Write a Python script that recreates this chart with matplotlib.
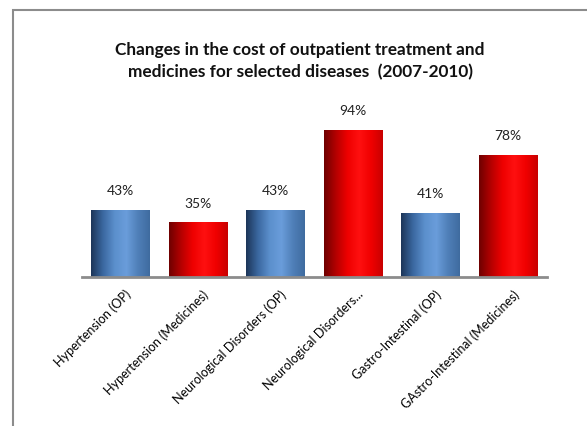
import numpy as np
import matplotlib
matplotlib.use("Agg")
import matplotlib.pyplot as plt
from matplotlib.patches import Rectangle
from matplotlib.colors import LinearSegmentedColormap
from matplotlib.transforms import ScaledTranslation

categories = ["Hypertension (OP)", "Hypertension (Medicines)", "Neurological Disorders (OP)",
              "Neurological Disorders...", "Gastro-Intestinal (OP)", "GAstro-Intestinal (Medicines)"]
values = [43, 35, 43, 94, 41, 78]
kinds = ["OP", "Med", "OP", "Med", "OP", "Med"]
title = "Changes in the cost of outpatient treatment and\nmedicines for selected diseases  (2007-2010)"

plt.rcParams['font.family'] = ['Lato', 'DejaVu Sans']

fig = plt.figure(figsize=(5.87, 4.26), dpi=100)
W, H = 587, 426
ax = fig.add_axes([82 / W, 1 - 277 / H, (547 - 82) / W, (277 - 120.6) / H])

blue_cmap = LinearSegmentedColormap.from_list("b", ["#1c3558", "#3a679f", "#5b8fcc", "#6a9ddb", "#4f7fb8", "#3f6b9f"])
red_cmap = LinearSegmentedColormap.from_list("r", ["#6e0000", "#b30000", "#ee0000", "#ff1010", "#f00000", "#c80000"])

x = np.arange(len(categories))
bars = ax.bar(x, values, width=0.76, color="none", edgecolor="none", zorder=2)
grad = np.linspace(0, 1, 256).reshape(1, -1)
for b, k, v in zip(bars, kinds, values):
    x0, w = b.get_x(), b.get_width()
    cmap = blue_cmap if k == "OP" else red_cmap
    im = ax.imshow(grad, cmap=cmap, aspect="auto", extent=[x0, x0 + w, 0, v], zorder=2)
    im.set_clip_path(b)
    ax.text(x0 + w / 2, v + 8, f"{v}%", ha="center", va="bottom", fontsize=10, color="#222222")

ax.set_xlim(-0.5, len(categories) - 0.5)
ax.set_ylim(0, 100)
for s in ["top", "right", "left"]:
    ax.spines[s].set_visible(False)
ax.spines["bottom"].set_color("#8c8c8c")
ax.spines["bottom"].set_linewidth(2)
ax.set_yticks([])
ax.set_xticks(x)
ax.set_xticklabels(categories, rotation=45, ha="right", va="top", rotation_mode="anchor", fontsize=9)
ax.tick_params(axis="x", length=0, pad=8)
for lbl in ax.get_xticklabels():
    lbl.set_transform(lbl.get_transform() + ScaledTranslation(3 / 72, 0, fig.dpi_scale_trans))

fig.text(300 / W, 1 - 61 / H, title, ha="center", va="center", fontsize=12.4, fontweight="bold",
         linespacing=1.5, color="#111111")

fig.patches.append(Rectangle((13 / W, -0.1), 1.0, 1.1 - 10 / H, transform=fig.transFigure,
                             fill=False, edgecolor="#8c8c8c", linewidth=1.5))

fig.savefig("out.png", dpi=100)
